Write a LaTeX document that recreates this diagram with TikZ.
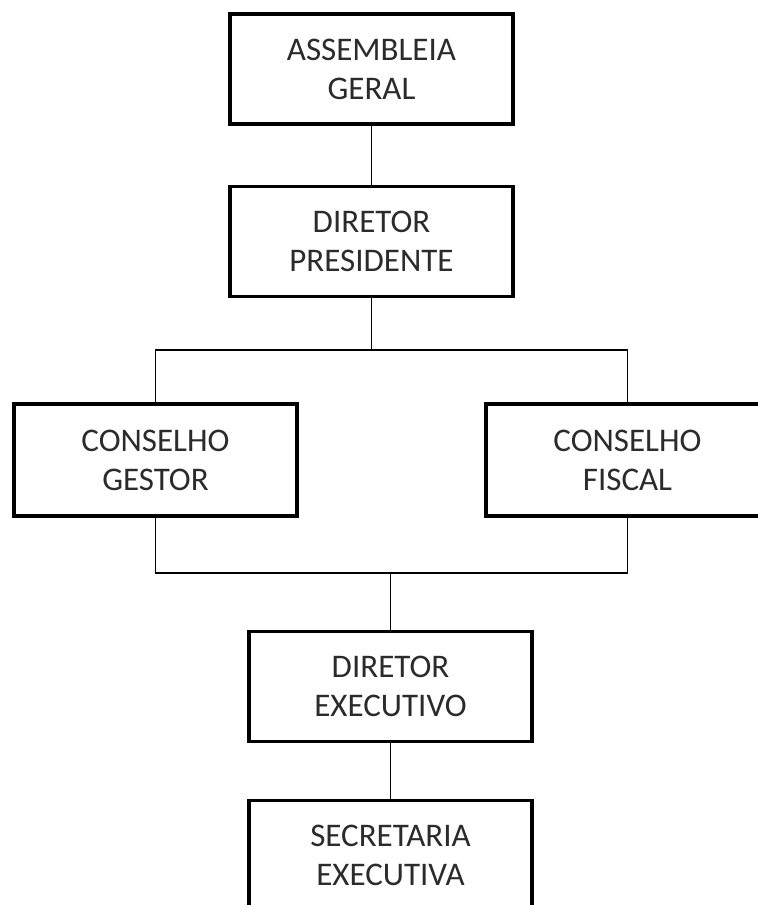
\documentclass[tikz,border=0pt]{standalone}
\usepackage{fontspec}
\setmainfont{Carlito}
\usepackage{tikz}
\definecolor{OrgText}{HTML}{2B2B2B}

\begin{document}
\begin{tikzpicture}[x=0.5pt,y=-0.5pt,
    orgbox/.style={draw=black,line width=1.8pt,fill=white,text=OrgText,align=center,
      minimum width=141.5pt,minimum height=55pt,inner sep=0pt,
      font=\fontsize{16.5}{19.5}\selectfont},
    link/.style={draw=black,line width=0.85pt}]
  \useasboundingbox (0,0) rectangle (758,905);
  \clip (0,0) rectangle (758,905);
  % boxes
  \node[orgbox] (assembleia) at (371.5,69) {ASSEMBLEIA\\GERAL};
  \node[orgbox] (presidente) at (371.5,241.5) {DIRETOR\\PRESIDENTE};
  \node[orgbox,minimum height=56pt] (gestor) at (155.5,460) {CONSELHO\\GESTOR};
  \node[orgbox,minimum height=56pt] (fiscal) at (627.5,460) {CONSELHO\\FISCAL};
  \node[orgbox] (executivo) at (390.5,686.5) {DIRETOR\\EXECUTIVO};
  \node[orgbox] (secretaria) at (390.5,855.5) {SECRETARIA\\EXECUTIVA};
  % connectors
  \coordinate (busTop) at (371.5,350);
  \coordinate (busLow) at (390.5,573);
  \draw[link] (assembleia) -- (presidente);
  \draw[link] (presidente) -- (busTop) -| (gestor);
  \draw[link] (busTop) -| (fiscal);
  \draw[link] (gestor) |- (busLow) -| (fiscal);
  \draw[link] (busLow) -- (executivo);
  \draw[link] (executivo) -- (secretaria);
\end{tikzpicture}
\end{document}
